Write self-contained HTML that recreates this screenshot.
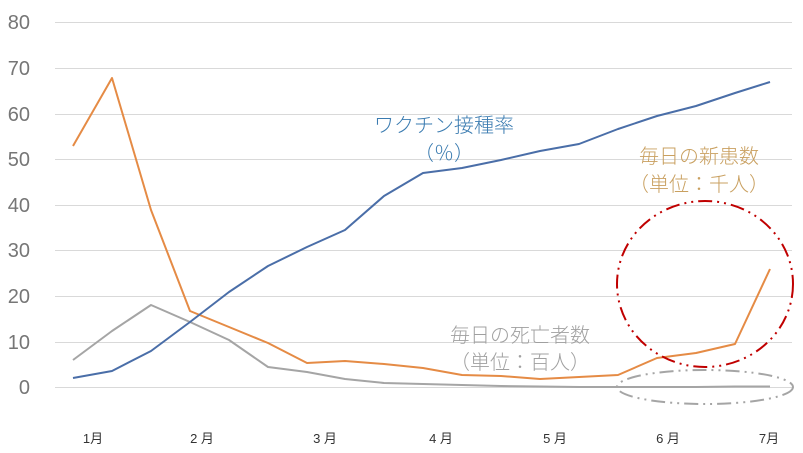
<!DOCTYPE html><html><head><meta charset="utf-8"><style>body{margin:0;background:#fff}svg{display:block}</style></head><body>
<svg width="803" height="453" xmlns="http://www.w3.org/2000/svg" font-family="Liberation Sans, Noto Sans CJK JP, sans-serif">
<g stroke="#d9d9d9" stroke-width="1">
<line x1="55" x2="792" y1="22.5" y2="22.5"/><line x1="55" x2="792" y1="68.5" y2="68.5"/><line x1="55" x2="792" y1="114.5" y2="114.5"/><line x1="55" x2="792" y1="159.5" y2="159.5"/><line x1="55" x2="792" y1="205.5" y2="205.5"/><line x1="55" x2="792" y1="250.5" y2="250.5"/><line x1="55" x2="792" y1="296.5" y2="296.5"/><line x1="55" x2="792" y1="342.5" y2="342.5"/><line x1="55" x2="792" y1="387.5" y2="387.5"/>
</g>
<g fill="#767676" font-size="20" text-anchor="end">
<text x="30" y="29">80</text><text x="30" y="75">70</text><text x="30" y="121">60</text><text x="30" y="166">50</text><text x="30" y="212">40</text><text x="30" y="257">30</text><text x="30" y="303">20</text><text x="30" y="349">10</text><text x="30" y="394">0</text>
</g>
<g fill="#333" font-size="13" text-anchor="middle">
<text x="93" y="443">1月</text><text x="202" y="443">2 月</text><text x="325" y="443">3 月</text><text x="441" y="443">4 月</text><text x="555" y="443">5 月</text><text x="668" y="443">6 月</text><text x="769" y="443">7月</text>
</g>
<g fill="none" stroke-width="2" stroke-linejoin="round">
<polyline stroke="#a5a5a5" points="73,360 112,331 151,305 190,322 229,340 268,367 307,372 345,379 384,383 423,384 462,385 501,386 540,386.5 579,387 618,387 657,387 696,387 735,386.5 770,386.5"/>
<polyline stroke="#e58b45" points="73,146 112,78 151,210 190,311 229,327 268,343 307,363 345,361 384,364 423,368 462,375 501,376 540,379 579,377 618,375 657,358 696,353 735,344 770,269"/>
<polyline stroke="#4a6ea8" points="73,378 112,371 151,351 190,322 229,292 268,266 307,247 345,230 384,196 423,173 462,168 501,160 540,151 579,144 618,129 657,116 696,106 735,93 770,82"/>
</g>
<ellipse cx="705" cy="284" rx="88" ry="83" fill="none" stroke="#c00000" stroke-width="2" stroke-dasharray="14,5,2,5,2,5"/>
<ellipse cx="705" cy="387" rx="88" ry="17" fill="none" stroke="#a5a5a5" stroke-width="2" stroke-dasharray="14,5,2,5,2,5"/>
<g font-size="20" text-anchor="middle" font-family="Noto Sans CJK JP, sans-serif" font-weight="300">
<text x="444" y="132" fill="#3a7bb0">ワクチン接種率</text><text x="444" y="160" fill="#3a7bb0">（％）</text>
<text x="699" y="163" fill="#c9a060">毎日の新患数</text><text x="699" y="191" fill="#c9a060">（単位：千人）</text>
<text x="520" y="342" fill="#a0a0a0">毎日の死亡者数</text><text x="520" y="369" fill="#a0a0a0">（単位：百人）</text>
</g>
</svg></body></html>
